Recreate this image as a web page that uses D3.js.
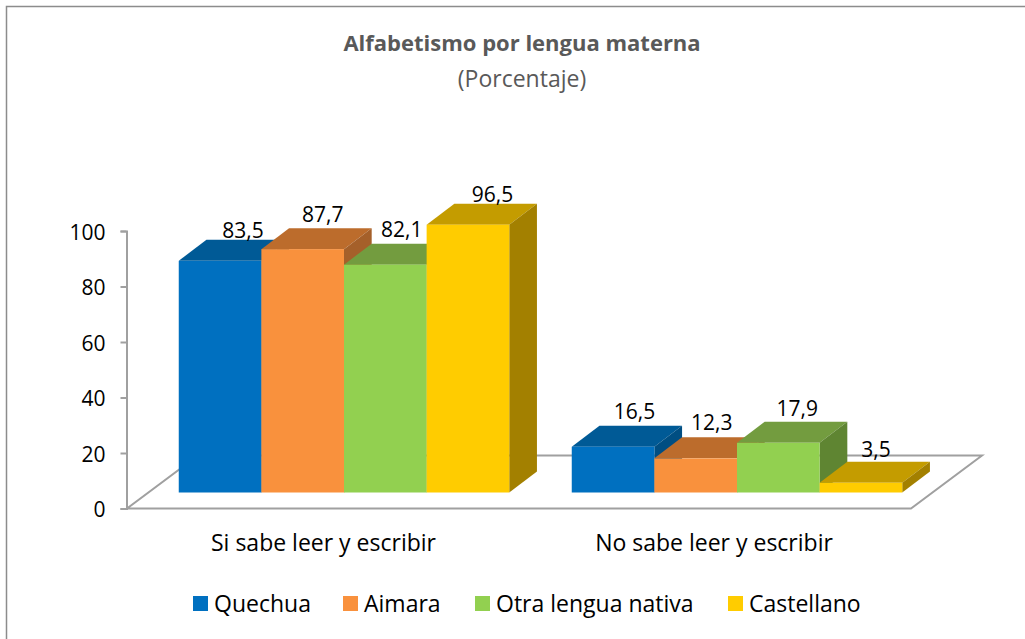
<!DOCTYPE html>
<html>
<head>
<meta charset="utf-8">
<script src="https://cdn.jsdelivr.net/npm/d3@7"></script>
<style>
  html, body { margin: 0; padding: 0; background: #fff; }
  svg { display: block; font-family: "Open Sans", sans-serif; }
  .tick text, .cat, .val, .leg { fill: #000; }
</style>
</head>
<body>
<script>
const groups = ['Si sabe leer y escribir', 'No sabe leer y escribir'];
const seriesNames = ['Quechua', 'Aimara', 'Otra lengua nativa', 'Castellano'];
const siSabe = [83.5, 87.7, 82.1, 96.5];
const noSabe = [16.5, 12.3, 17.9, 3.5];
const yTicks = [0, 20, 40, 60, 80, 100];

const frontCol = ['#0070c0', '#f9913d', '#92d050', '#ffcc00'];
const topCol = ['#005a96', '#bc6c2c', '#739c3f', '#c49c00'];
const sideCol = ['#004e82', '#a5602a', '#5f8532', '#a38000'];

// hand nudges for data labels, same order as the bars
const nudge = [
  [[23, -23], [20, -27], [16.5, -27.5], [24.5, -22.5]],
  [[21.5, -27.5], [16, -28], [19, -27], [15, -26]]
];
const catNudge = [0, -2.5];

const W = 1025, H = 639;
const svg = d3.select('body').append('svg').attr('width', W).attr('height', H);

svg.append('rect')
  .attr('x', 6.5).attr('y', 6.5)
  .attr('width', 1040).attr('height', 660)
  .attr('fill', '#fff').attr('stroke', '#8c8c8c').attr('stroke-width', 1.5);

const y = d3.scaleLinear().domain([0, 100]).range([508.5, 231]);
const x0 = d3.scaleBand().domain(groups).range([127, 913]);
const x1 = d3.scaleBand().domain(seriesNames).range([0, 330.5]);

const depth = { dx: 27.7, dy: 21 };
const lift = { dx: 20.5, dy: 16 }; // bars stand back from the front edge of the floor
const floorDepth = { dx: 71, dy: 53 };
const gap = (x0.bandwidth() - x1.range()[1]) / 2;

svg.append('path')
  .attr('d', d3.line()([
    [127, y(0)], [911, y(0)],
    [911 + floorDepth.dx, y(0) - floorDepth.dy],
    [127 + floorDepth.dx, y(0) - floorDepth.dy]
  ]) + 'Z')
  .attr('fill', '#fff')
  .attr('stroke', '#a0a0a0')
  .attr('stroke-width', 2);

const axis = d3.axisLeft(y).tickValues(yTicks).tickSize(6).tickPadding(15);
const axisG = svg.append('g').attr('transform', 'translate(126.5,0)').call(axis);
axisG.selectAll('path, line').attr('stroke', '#a0a0a0').attr('stroke-width', 2);
axisG.selectAll('text').attr('font-size', 21).attr('font-family', '"Open Sans"').attr('dy', '0.4em');

[siSabe, noSabe].forEach((vals, g) => {
  const left = x0(groups[g]) + gap + lift.dx;
  const base = y(0) - lift.dy;
  vals.forEach((v, i) => {
    const name = seriesNames[i];
    const xa = left + x1(name);
    const xb = xa + x1.bandwidth();
    const h = y(0) - y(v);
    const t = base - h;

    svg.append('path')
      .attr('fill', topCol[i])
      .attr('d', d3.line()([[xa, t], [xb, t], [xb + depth.dx, t - depth.dy], [xa + depth.dx, t - depth.dy]]) + 'Z');
    svg.append('path')
      .attr('fill', sideCol[i])
      .attr('d', d3.line()([[xb, t], [xb + depth.dx, t - depth.dy], [xb + depth.dx, base - depth.dy], [xb, base]]) + 'Z');
    svg.append('rect')
      .attr('x', xa).attr('y', t)
      .attr('width', x1.bandwidth()).attr('height', h)
      .attr('fill', frontCol[i]);
  });
});

// labels go on top of all bars
[siSabe, noSabe].forEach((vals, g) => {
  const left = x0(groups[g]) + gap + lift.dx;
  const base = y(0) - lift.dy;
  vals.forEach((v, i) => {
    const t = base - (y(0) - y(v));
    svg.append('text')
      .attr('class', 'val')
      .attr('x', left + x1(seriesNames[i]) + x1.bandwidth() / 2 + nudge[g][i][0])
      .attr('y', t + nudge[g][i][1])
      .attr('text-anchor', 'middle')
      .attr('font-size', 21)
      .text(String(v).replace('.', ','));
  });
});

svg.selectAll('.cat')
  .data(groups)
  .enter()
  .append('text')
  .attr('class', 'cat')
  .attr('x', (d, i) => x0(d) + x0.bandwidth() / 2 + catNudge[i])
  .attr('y', 551)
  .attr('text-anchor', 'middle')
  .attr('font-size', 23)
  .text(d => d);

svg.append('text')
  .attr('x', 522).attr('y', 51)
  .attr('text-anchor', 'middle')
  .attr('font-size', 22).attr('font-weight', 700)
  .attr('fill', '#595959')
  .text('Alfabetismo por lengua materna');
svg.append('text')
  .attr('x', 522).attr('y', 87)
  .attr('text-anchor', 'middle')
  .attr('font-size', 23)
  .attr('fill', '#595959')
  .text('(Porcentaje)');

// legend
const legX = [193, 343, 475, 728];
const leg = svg.selectAll('.legItem')
  .data(seriesNames)
  .enter()
  .append('g')
  .attr('class', 'legItem')
  .attr('transform', (d, i) => `translate(${legX[i]},596)`);
leg.append('rect')
  .attr('width', 15).attr('height', 15)
  .attr('fill', (d, i) => frontCol[i]);
leg.append('text')
  .attr('class', 'leg')
  .attr('x', 21).attr('y', 16)
  .attr('font-size', 23)
  .text(d => d);
</script>
</body>
</html>
